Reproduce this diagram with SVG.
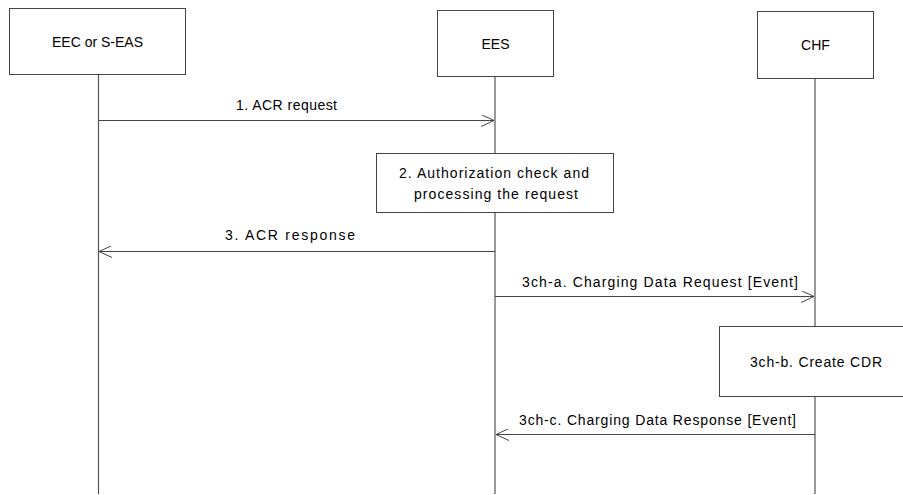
<svg xmlns="http://www.w3.org/2000/svg" width="903" height="495" viewBox="0 0 903 495">
<defs>
<style>
.box{fill:#fff;stroke:#444;stroke-width:1}
.life{stroke:#555;stroke-width:1.2;fill:none}
.msg{stroke:#444;stroke-width:1;fill:none}
text{font-family:"Liberation Sans",Arial,sans-serif;font-size:14px;fill:#000;text-anchor:middle}
</style>
<marker id="arr" markerWidth="14" markerHeight="12" refX="13" refY="6" orient="auto" markerUnits="userSpaceOnUse">
<path d="M0,0 L13,6 L0,12" fill="none" stroke="#444" stroke-width="1"/>
</marker>
</defs>
<g id="lifelines">
<line class="life" x1="98.5" y1="74" x2="98.5" y2="494"/>
<line class="life" x1="495" y1="77" x2="495" y2="494"/>
<line class="life" x1="815" y1="78" x2="815" y2="494"/>
</g>
<g id="node-eec">
<rect class="box" x="9.5" y="8.5" width="176" height="66"/>
<text x="97.5" y="47">EEC or S-EAS</text>
</g>
<g id="node-ees">
<rect class="box" x="437.5" y="10.5" width="116" height="66"/>
<text x="495.5" y="49">EES</text>
</g>
<g id="node-chf">
<rect class="box" x="757.5" y="11.5" width="116" height="67"/>
<text x="815.5" y="50">CHF</text>
</g>
<g id="node-auth">
<rect class="box" x="376.5" y="153.5" width="237" height="59"/>
<text x="494" y="178" textLength="190" lengthAdjust="spacing">2. Authorization check and</text>
<text x="496" y="199" textLength="164" lengthAdjust="spacing">processing the request</text>
</g>
<g id="node-cdr">
<rect class="box" x="719.5" y="326.5" width="190" height="70"/>
<text x="816" y="367" textLength="132" lengthAdjust="spacing">3ch-b. Create CDR</text>
</g>
<g id="connectors">
<line class="msg" x1="98.5" y1="120.5" x2="494" y2="120.5" marker-end="url(#arr)"/>
<text x="286.5" y="110" textLength="101" lengthAdjust="spacing">1. ACR request</text>
<line class="msg" x1="495" y1="251.5" x2="99" y2="251.5" marker-end="url(#arr)"/>
<text x="290" y="240" textLength="130" lengthAdjust="spacing">3. ACR response</text>
<line class="msg" x1="495" y1="296.5" x2="814" y2="296.5" marker-end="url(#arr)"/>
<text x="660" y="287" textLength="276" lengthAdjust="spacing">3ch-a. Charging Data Request [Event]</text>
<line class="msg" x1="815" y1="434.5" x2="496" y2="434.5" marker-end="url(#arr)"/>
<text x="657.5" y="425" textLength="277" lengthAdjust="spacing">3ch-c. Charging Data Response [Event]</text>
</g>
</svg>
